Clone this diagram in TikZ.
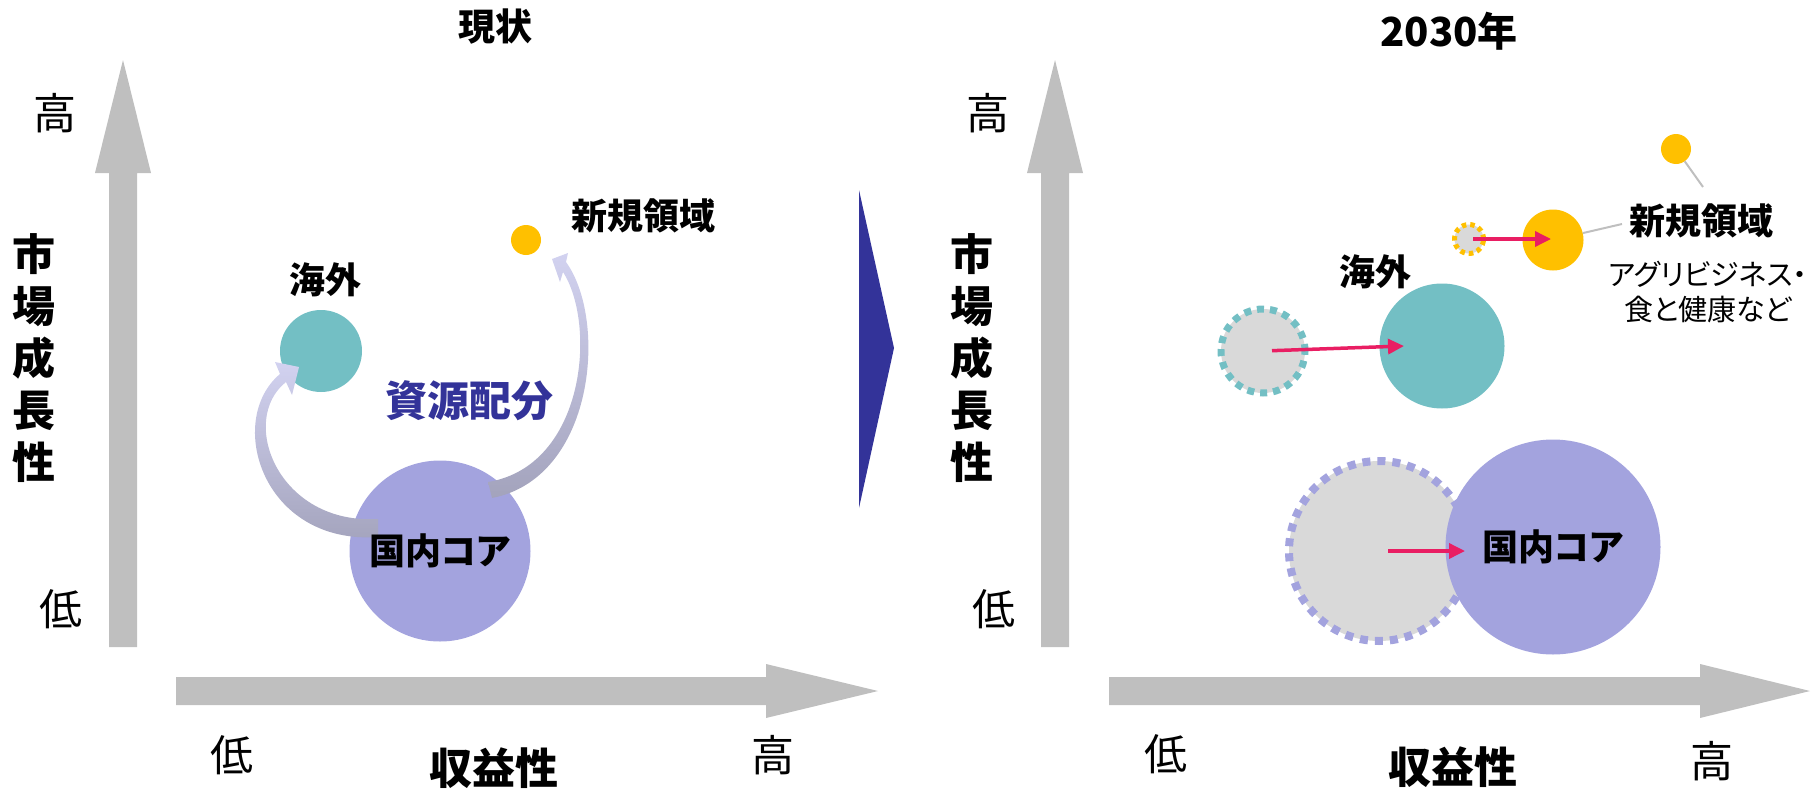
\documentclass[tikz,border=0pt]{standalone}
\usepackage{fontspec}
\setmainfont{Noto Sans CJK JP}[RawFeature=+palt]
\usetikzlibrary{arrows.meta}
\definecolor{axisgray}{HTML}{BFBFBF}
\definecolor{overseasteal}{HTML}{73BFC4}
\definecolor{corepurple}{HTML}{A3A3DE}
\definecolor{newyellow}{HTML}{FFC000}
\definecolor{pastgray}{HTML}{D9D9D9}
\definecolor{navy}{HTML}{333399}
\definecolor{shiftred}{HTML}{E91E63}
\definecolor{flowlight}{RGB}{210,210,240}
\definecolor{flowdark}{RGB}{163,163,188}

\begin{document}
\begin{tikzpicture}[x=1pt, y=-1pt,
    bubble/.style={circle, inner sep=0pt, outer sep=0pt},
    pastbubble/.style={bubble, fill=pastgray, line width=7pt, dash pattern=on 7pt off 6pt},
    heading/.style={font=\bfseries\fontsize{37}{40}\selectfont},
    axistitle/.style={font=\bfseries\fontsize{43}{52}\selectfont, align=center},
    levelmark/.style={font=\fontsize{43}{46}\selectfont},
    bubbletext/.style={font=\bfseries\fontsize{36}{40}\selectfont},
    note/.style={font=\fontsize{29}{35}\selectfont, align=center, inner sep=1pt},
    moveline/.style={draw=shiftred, line width=3.5pt, -{Triangle[length=16pt, width=15pt]}},
    leader/.style={draw=axisgray, line width=2pt},
    flow/.style={top color=flowlight, bottom color=flowdark}]

    \useasboundingbox (0,0) rectangle (1818,790);

    \fill[axisgray]
        (109,647) -- (109,173) -- (95,173) -- (123,60) -- (151,173) -- (137,173) -- (137,647) -- cycle
        (176,677) -- (766,677) -- (766,664) -- (878,691) -- (766,718) -- (766,705) -- (176,705) -- cycle
        (1041,647) -- (1041,173) -- (1027,173) -- (1055,60) -- (1083,173) -- (1069,173) -- (1069,647) -- cycle
        (1109,677) -- (1700,677) -- (1700,664) -- (1810,691) -- (1700,718) -- (1700,705) -- (1109,705) -- cycle;
    \fill[navy] (859,190) -- (894,348) -- (859,508) -- cycle;

    \node[heading] (nowtitle) at (495,27) {現状};
    \node[heading, font=\bfseries\fontsize{40}{44}\selectfont] (futuretitle) at (1449,31) {2030年};

    \node[axistitle] (growthleft) at (34,358) {市\\場\\成\\長\\性};
    \node[axistitle] (growthright) at (972,358) {市\\場\\成\\長\\性};
    \node[axistitle] (profitleft) at (494,768) {収益性};
    \node[axistitle] (profitright) at (1453,767) {収益性};

    \node[levelmark] (highleft) at (55,113) {高};
    \node[levelmark] (lowleft) at (61,609) {低};
    \node[levelmark] (lowbottomleft) at (232,755) {低};
    \node[levelmark] (highbottomleft) at (773,755) {高};
    \node[levelmark] (highright) at (988,113) {高};
    \node[levelmark] (lowright) at (994,609) {低};
    \node[levelmark] (lowbottomright) at (1166,754) {低};
    \node[levelmark] (highbottomright) at (1712,761) {高};

    \node[bubble, fill=overseasteal, minimum size=82] (overseas) at (321,351) {};
    \node[bubble, fill=newyellow, minimum size=30] (newfield) at (526,240) {};
    \node[bubble, fill=corepurple, minimum size=181] (core) at (440,551) {};

    \shade[flow] (378,519) -- (378,537) .. controls (262,545) and (225,420) .. (280,374)
        -- (275,362) -- (299,367) -- (292,395) -- (286,382)
        .. controls (238,420) and (278,525) .. (378,519) -- cycle;
    \shade[flow] (488,482) -- (492,498) .. controls (595,478) and (608,320) .. (566,262)
        -- (568,253) -- (552,259) -- (560,282) -- (563,272)
        .. controls (597,325) and (585,466) .. (488,482) -- cycle;

    \node[bubbletext] (corelabel) at (core) {国内コア};
    \node[bubbletext] (overseaslabel) at (325,280) {海外};
    \node[bubbletext] (newfieldlabel) at (643,216) {新規領域};
    \node[bubbletext, text=navy, font=\bfseries\fontsize{42}{46}\selectfont] (allocation) at (469,401) {資源配分};

    \node[pastbubble, draw=overseasteal, minimum size=84] (overseasold) at (1263,351) {};
    \node[bubble, fill=overseasteal, minimum size=125] (overseasnew) at (1442,346) {};
    \node[pastbubble, draw=newyellow, line width=5pt, dash pattern=on 4.5pt off 4pt, minimum size=29] (newfieldold) at (1469,239) {};
    \node[bubble, fill=newyellow, minimum size=61] (newfieldnew) at (1553,240) {};
    \node[pastbubble, draw=corepurple, line width=8pt, dash pattern=on 8pt off 7pt, minimum size=180] (coreold) at (1379,551) {};
    \node[bubble, fill=corepurple, minimum size=215, bubbletext] (corenew) at (1553,547) {国内コア};

    \coordinate (overseastip) at (1404,346);
    \coordinate (newfieldtip) at (1551,239);
    \coordinate (coretip) at (1465,551);
    \draw[moveline, shorten <=9pt] (overseasold.center) -- (overseastip);
    \draw[moveline, shorten <=4pt] (newfieldold.center) -- (newfieldtip);
    \draw[moveline, shorten <=9pt] (coreold.center) -- (coretip);

    \node[bubble, fill=newyellow, minimum size=30] (marker) at (1676,149) {};
    \coordinate (markerend) at (1703,187);
    \coordinate (leaderend) at (1622,224);
    \draw[leader] (marker) -- (markerend);
    \draw[leader] (newfieldnew) -- (leaderend);

    \node[bubbletext] (overseasnewlabel) at (1375,272) {海外};
    \node[bubbletext] (newfieldnewlabel) at (1701,221) {新規領域};
    \node[note] (newfieldnote) at (1708,292) {アグリビジネス・\\食と健康など};
\end{tikzpicture}
\end{document}
